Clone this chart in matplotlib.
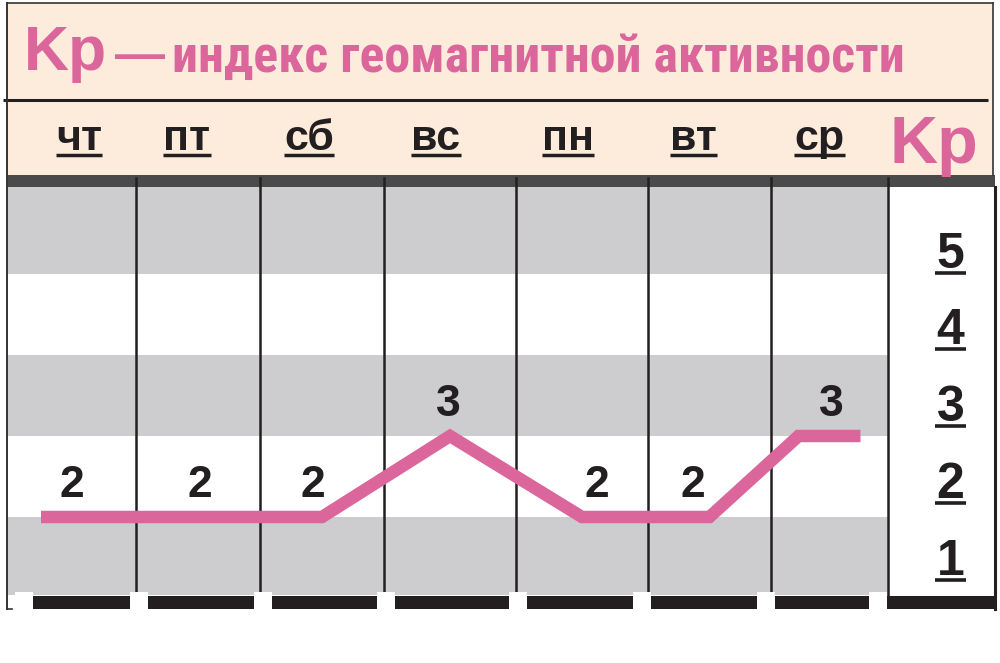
import os

import matplotlib
matplotlib.use("Agg")
import matplotlib.pyplot as plt
import matplotlib.font_manager as fm
from matplotlib.lines import Line2D
from matplotlib.patches import Rectangle
from matplotlib.transforms import IdentityTransform

# --- data -------------------------------------------------------------
days = ["чт", "пт", "сб", "вс", "пн", "вт", "ср"]
kp_values = [2, 2, 2, 3, 2, 2, 3]
kp_scale = [1, 2, 3, 4, 5]
title_main = "Kp"
title_dash = "—"
title_rest = "индекс геомагнитной активности"
scale_label = "Kp"

# --- style ------------------------------------------------------------
PINK = "#db669c"
PEACH = "#fdebdb"
GRAY = "#cdcdd0"
DARK = "#4a4a4a"
INK = "#231f20"
FONT = ["Liberation Sans", "DejaVu Sans"]


def condensed_bold():
    # the subtitle is set in a condensed bold face; pick whichever one is installed
    prefs = ["liberationsansnarrow-bold.", "arialnarrow-bold", "arialnarrowbold",
             "robotocondensed-bold.", "notosans-condensedbold.", "opensans-condensedbold.",
             "dejavusanscondensed-bold."]
    files = {os.path.basename(f.fname).lower(): f.fname for f in fm.fontManager.ttflist}
    for p in prefs:
        for name, path in files.items():
            if name.startswith(p):
                return fm.FontProperties(fname=path)
    for name, path in files.items():
        if ("condensed" in name or "narrow" in name) and "bold" in name \
                and not any(s in name for s in ("italic", "semi", "extra", "oblique")):
            return fm.FontProperties(fname=path)
    return fm.FontProperties(family=FONT, weight="bold")


W, H = 1000, 663
col_edges = [8, 136, 260, 384, 516, 648, 771, 888]   # day columns, px
panel_right = 995
plot_top, plot_bot = 187, 595
centers = [(a + b) / 2 for a, b in zip(col_edges[:-1], col_edges[1:])]
head_shift = [7, -11, -13, -14, -14, -16, -10]        # header labels vs column centre
value_shift = [0, 2, -9, -2, 15, -17, 2]              # value labels vs column centre

fig = plt.figure(figsize=(W / 100, H / 100), dpi=100)
renderer = fig.canvas.get_renderer()

# backdrop in picture pixels (y down)
bg = fig.add_axes([0, 0, 1, 1], zorder=0)
bg.set_xlim(0, W); bg.set_ylim(H, 0); bg.axis("off")
bg.add_patch(Rectangle((8, 3), 985, 172, fc=PEACH, ec="none"))
bg.add_patch(Rectangle((8, 175), panel_right - 8, 12, fc=DARK, ec="none"))
bg.plot([3, 988], [100, 100], color=INK, lw=2.2, solid_capstyle="butt")

# data axes: x in picture px, y in Kp units
ax = fig.add_axes([0, (H - plot_bot) / H, 1, (plot_bot - plot_top) / H], zorder=1)
ax.patch.set_alpha(0)
ax.set_xlim(0, W)
ax.set_ylim(1.037, 6.074)
ax.axis("off")

xf0, xf1 = col_edges[0] / W, col_edges[-1] / W
for k in kp_scale[::2]:
    hi = k + 1 if k != kp_scale[-1] else ax.get_ylim()[1]
    ax.axhspan(k, hi, xmin=xf0, xmax=xf1, color=GRAY, lw=0, zorder=1)

for x in col_edges[1:]:
    ax.axvline(x, ymin=0, ymax=1 + 9 / (plot_bot - plot_top), color=INK, lw=1.8,
               clip_on=False, zorder=2)

# Kp polyline: through day centres, short plateau at both ends
pad = 31
xs = [centers[0] - pad] + centers[:-1] + [centers[-1] - pad, centers[-1] + pad]
ys = [kp_values[0]] + kp_values[:-1] + [kp_values[-1]] * 2
ax.plot(xs, ys, color=PINK, lw=9, solid_joinstyle="miter", solid_capstyle="butt", zorder=4)

for c, s, v in zip(centers, value_shift, kp_values):
    ax.text(c + s, v + 0.25, str(v), ha="center", va="baseline", fontsize=32,
            fontweight="bold", color=INK, family=FONT, zorder=5)


def underline(t, drop, lw, ext=0):
    bb = t.get_window_extent(renderer)
    _, yb = t.get_transform().transform(t.get_position())
    fig.add_artist(Line2D([bb.x0 - ext, bb.x1 + ext], [yb - drop] * 2, transform=IdentityTransform(),
                          color=INK, lw=lw, solid_capstyle="butt", zorder=10))


# scale digits sit a little tighter than the bands
scale_x = (col_edges[-1] + panel_right) / 2 + 9
for k in kp_scale:
    t = ax.text(scale_x, 1.28 + 0.95 * (k - 1), str(k), ha="center", va="baseline", fontsize=36,
                fontweight="bold", color=INK, family=FONT, zorder=5)
    underline(t, 5, 2.6, ext=2)

# overlay: headers, bottom bars, frame
ov = fig.add_axes([0, 0, 1, 1], zorder=3)
ov.patch.set_alpha(0)
ov.set_xlim(0, W); ov.set_ylim(H, 0); ov.axis("off")

ov.text(24, 70, title_main, ha="left", va="baseline", fontsize=45, fontweight="bold",
        color=PINK, family=FONT)
ov.text(115, 70, title_dash, ha="left", va="baseline", fontsize=36, fontweight="bold",
        color=PINK, family=FONT)
cond = condensed_bold()
tr = ov.text(172, 72, title_rest, ha="left", va="baseline", fontproperties=cond,
             fontsize=37, color=PINK)
w = tr.get_window_extent(renderer).width
tr.set_fontsize(37 * 733 / w)

for c, s, d in zip(centers, head_shift, days):
    t = ov.text(c + s, 150, d, ha="center", va="baseline", fontsize=31, fontweight="bold",
                color=INK, family=FONT)
    underline(t, 5, 2.5)

ov.text(889, 163, scale_label, ha="left", va="baseline", fontsize=48, fontweight="bold",
        color=PINK, family=FONT)

gaps = [15, 130, 254, 377, 509, 633, 757, 869]
gap_w = 18
for i, g in enumerate(gaps):
    ov.add_patch(Rectangle((g, 592), gap_w, 17, fc="white", ec="none"))
    end = gaps[i + 1] if i + 1 < len(gaps) else 997
    ov.add_patch(Rectangle((g + gap_w, 596), end - g - gap_w, 13, fc=INK, ec="none"))

fc = "#333333"
ov.plot([7, 7], [3, 609], color=fc, lw=1.4)
ov.plot([7, 12], [609, 609], color=fc, lw=1.2)
ov.plot([7, 993], [3, 3], color=fc, lw=1.2)
ov.plot([993, 993], [3, 175], color=fc, lw=1.2)
ov.plot([995, 995], [187, 609], color=INK, lw=2.2)

fig.savefig("out.png", dpi=100)
